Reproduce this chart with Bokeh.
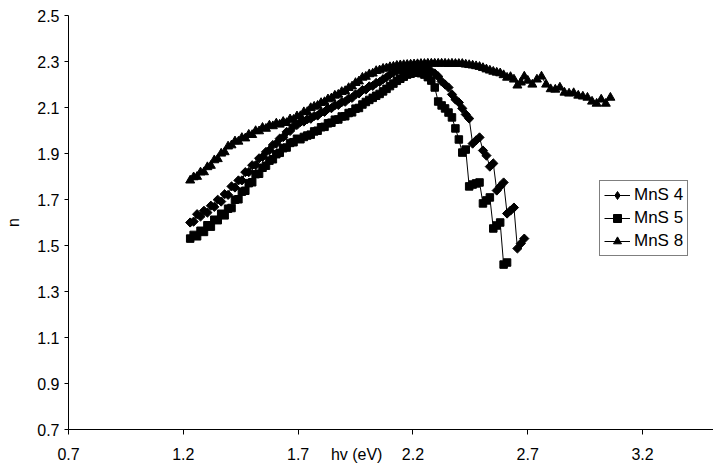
import numpy as np
from bokeh.plotting import figure
from bokeh.models import (Range1d, FixedTicker, LinearAxis, Legend,
                          LegendItem)
from bokeh.embed import file_html
from bokeh.resources import INLINE

# photon energy grid (eV)
hv = [1.230, 1.245, 1.260, 1.275, 1.290, 1.305, 1.320, 1.335, 1.350, 1.365,
      1.380, 1.395, 1.410, 1.425, 1.440, 1.455, 1.470, 1.485, 1.500, 1.515,
      1.530, 1.545, 1.560, 1.575, 1.590, 1.605, 1.620, 1.635, 1.650, 1.665,
      1.680, 1.695, 1.710, 1.725, 1.740, 1.755, 1.770, 1.785, 1.800, 1.815,
      1.830, 1.845, 1.860, 1.875, 1.890, 1.905, 1.920, 1.935, 1.950, 1.965,
      1.980, 1.995, 2.010, 2.025, 2.040, 2.055, 2.070, 2.085, 2.100, 2.115,
      2.130, 2.145, 2.160, 2.175, 2.190, 2.205, 2.220, 2.235, 2.250, 2.265,
      2.280, 2.295, 2.310, 2.325, 2.340, 2.355, 2.370, 2.385, 2.400, 2.415,
      2.430, 2.445, 2.460, 2.475, 2.490, 2.505, 2.520, 2.535, 2.550, 2.565,
      2.580, 2.595, 2.610, 2.625, 2.640, 2.655, 2.670, 2.685, 2.700,
      2.720, 2.740, 2.760, 2.780, 2.800, 2.820, 2.840, 2.860, 2.880, 2.900,
      2.920, 2.940, 2.960, 2.980, 3.000, 3.020, 3.040, 3.060]

# refractive index n, sample MnS 4
n_mns4 = [1.600, 1.604, 1.636, 1.626, 1.651, 1.643, 1.673, 1.668, 1.699, 1.691,
          1.723, 1.720, 1.757, 1.752, 1.783, 1.783, 1.819, 1.819, 1.849, 1.849,
          1.879, 1.885, 1.907, 1.914, 1.937, 1.943, 1.965, 1.971, 1.994, 1.998,
          2.018, 2.024, 2.037, 2.039, 2.049, 2.051, 2.063, 2.065, 2.079, 2.081,
          2.095, 2.097, 2.110, 2.111, 2.123, 2.125, 2.139, 2.142, 2.157, 2.161,
          2.176, 2.178, 2.192, 2.194, 2.207, 2.211, 2.223, 2.231, 2.244, 2.252,
          2.259, 2.262, 2.266, 2.270, 2.274, 2.276, 2.277, 2.277, 2.272, 2.265,
          2.257, 2.248, 2.235, 2.213, 2.200, 2.187, 2.157, 2.135, 2.122, 2.096,
          2.070, 2.052, 1.943, 1.957, 1.970, 1.913, 1.891, 1.843, 1.857, 1.739,
          1.757, 1.774, 1.639, 1.652, 1.665, 1.487, 1.509, 1.530]

# refractive index n, sample MnS 5
n_mns5 = [1.530, 1.546, 1.540, 1.564, 1.559, 1.588, 1.582, 1.612, 1.610, 1.638,
          1.631, 1.660, 1.663, 1.699, 1.701, 1.734, 1.738, 1.771, 1.775, 1.810,
          1.812, 1.838, 1.847, 1.869, 1.875, 1.897, 1.903, 1.923, 1.926, 1.946,
          1.949, 1.964, 1.962, 1.972, 1.978, 1.982, 1.996, 1.999, 2.014, 2.016,
          2.031, 2.034, 2.047, 2.048, 2.061, 2.062, 2.076, 2.079, 2.095, 2.098,
          2.113, 2.124, 2.133, 2.142, 2.151, 2.159, 2.170, 2.181, 2.193, 2.204,
          2.216, 2.225, 2.234, 2.243, 2.247, 2.251, 2.251, 2.249, 2.243, 2.232,
          2.217, 2.187, 2.126, 2.109, 2.096, 2.078, 2.057, 2.009, 1.961, 1.904,
          1.917, 1.757, 1.765, 1.770, 1.774, 1.683, 1.696, 1.709, 1.574, 1.587,
          1.600, 1.417, 1.426]

# refractive index n, sample MnS 8
n_mns8 = [1.783, 1.797, 1.799, 1.818, 1.819, 1.841, 1.847, 1.871, 1.876, 1.900,
          1.906, 1.931, 1.936, 1.953, 1.952, 1.968, 1.966, 1.982, 1.981, 1.998,
          1.997, 2.012, 2.008, 2.022, 2.019, 2.031, 2.026, 2.038, 2.033, 2.049,
          2.047, 2.062, 2.063, 2.080, 2.081, 2.098, 2.104, 2.108, 2.120, 2.124,
          2.136, 2.140, 2.152, 2.156, 2.168, 2.172, 2.185, 2.192, 2.207, 2.214,
          2.230, 2.234, 2.245, 2.248, 2.259, 2.262, 2.269, 2.271, 2.276, 2.278,
          2.282, 2.284, 2.285, 2.286, 2.287, 2.288, 2.289, 2.290, 2.290, 2.291,
          2.291, 2.291, 2.291, 2.291, 2.291, 2.290, 2.291, 2.290, 2.290, 2.290,
          2.287, 2.285, 2.283, 2.280, 2.277, 2.272, 2.266, 2.261, 2.256, 2.252,
          2.249, 2.241, 2.230, 2.233, 2.222, 2.196, 2.209, 2.235, 2.217,
          2.200, 2.222, 2.235, 2.200, 2.180, 2.178, 2.187, 2.165, 2.161, 2.163,
          2.152, 2.148, 2.143, 2.126, 2.117, 2.135, 2.117, 2.143]

x_ticks = [0.7, 1.2, 1.7, 2.2, 2.7, 3.2]
y_ticks = [0.7, 0.9, 1.1, 1.3, 1.5, 1.7, 1.9, 2.1, 2.3, 2.5]
x_title = "hv (eV)"
x_title_pos = 1.955   # the x title shares the tick-label row

FONT = "Liberation Sans"

p = figure(width=713, height=465, output_backend="svg", toolbar_location=None,
           x_range=Range1d(0.7, 3.509), y_range=Range1d(0.7, 2.5),
           x_axis_type=None,
           min_border_left=68, min_border_right=0, min_border_top=15,
           min_border_bottom=36, background_fill_color="white",
           border_fill_color="white", outline_line_color=None)

p.xgrid.visible = False
p.ygrid.visible = False


def style_labels(ax):
    ax.major_label_text_font = FONT
    ax.major_label_text_font_size = "16px"
    ax.major_label_text_color = "black"
    ax.minor_tick_line_color = None


# bottom axis: line and tick marks only
x_line_axis = LinearAxis(ticker=FixedTicker(ticks=x_ticks),
                         axis_line_color="black", major_tick_line_color="black",
                         major_tick_in=0, major_tick_out=5,
                         minor_tick_line_color=None,
                         major_label_text_font_size="1px",
                         major_label_text_alpha=0, major_label_standoff=0)
p.add_layout(x_line_axis, "below")

# second bottom axis: tick labels plus the x title on the same row
label_map = {t: f"{t:.1f}" for t in x_ticks}
label_map[x_title_pos] = x_title
x_label_axis = LinearAxis(ticker=FixedTicker(ticks=x_ticks + [x_title_pos]),
                          major_label_overrides=label_map,
                          axis_line_color=None, major_tick_line_color=None,
                          major_tick_in=0, major_tick_out=0,
                          major_label_standoff=11)
style_labels(x_label_axis)
p.add_layout(x_label_axis, "below")

yax = p.yaxis[0]
yax.ticker = FixedTicker(ticks=y_ticks)
yax.axis_line_color = "black"
yax.major_tick_line_color = "black"
yax.major_tick_in = 0
yax.major_tick_out = 4
yax.major_label_standoff = 5
style_labels(yax)
yax.axis_label = "n"
yax.axis_label_text_font = FONT
yax.axis_label_text_font_size = "16px"
yax.axis_label_text_font_style = "normal"
yax.axis_label_text_color = "black"
yax.axis_label_standoff = 12

# (name, values, plot marker, smaller marker used for the legend key)
series = [
    ("MnS 4", n_mns4, dict(marker="square", angle=np.pi / 4, size=6.5),
     dict(marker="diamond", size=9)),
    ("MnS 5", n_mns5, dict(marker="square", size=7.5),
     dict(marker="square", size=6)),
    ("MnS 8", n_mns8, dict(marker="triangle", size=9),
     dict(marker="triangle", size=7)),
]
items = []
for name, n_vals, mk, key_mk in series:
    xs = hv[:len(n_vals)]
    r_line = p.line(xs, n_vals, line_color="black", line_width=1)
    p.scatter(xs, n_vals, fill_color="black", line_color="black", **mk)
    # legend key marker, drawn on the series' first point
    r_key = p.scatter(x=xs[:1], y=n_vals[:1], fill_color="black",
                      line_color="black", **key_mk)
    items.append(LegendItem(label=name, renderers=[r_line, r_key]))

lg = Legend(items=items, location=(531, 173))
lg.border_line_color = "black"
lg.border_line_width = 1
lg.background_fill_color = "white"
lg.background_fill_alpha = 1.0
lg.label_text_font = FONT
lg.label_text_font_size = "17px"
lg.label_text_color = "black"
lg.glyph_width = 26
lg.glyph_height = 20
lg.label_height = 20
lg.label_standoff = 4
lg.spacing = 3
lg.padding = 4
lg.margin = 0
p.add_layout(lg, "center")

open("out.html", "w").write(file_html(p, INLINE))
